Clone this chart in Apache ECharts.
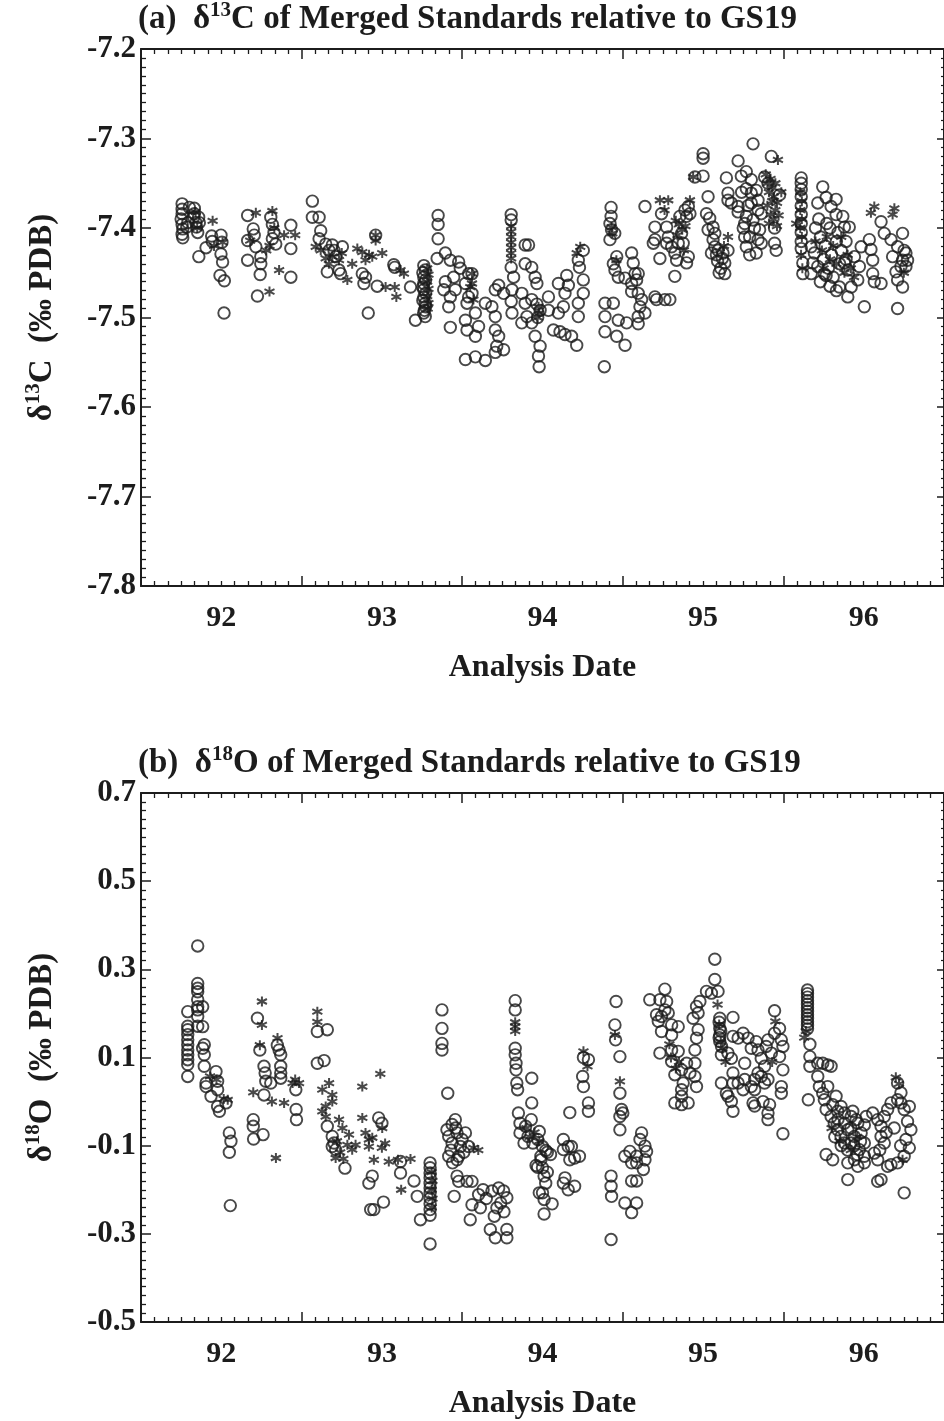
<!DOCTYPE html>
<html><head><meta charset="utf-8">
<script src="https://cdn.jsdelivr.net/npm/echarts@6/dist/echarts.min.js"></script>
<style>html,body{margin:0;padding:0;background:#fff}#c{width:944px;height:1421px}</style>
</head><body><div id="c"></div>
<script>
// ---- tick labels ----
const yearLabels = ['92','93','94','95','96'];
const yearLabelAt = [92.5,93.5,94.5,95.5,96.5];

// ---- (a) d13C, open circles ----
const d13C_circle = [
[92.256,-7.373],[92.256,-7.379],[92.256,-7.384],[92.250,-7.390],[92.256,-7.396],[92.260,-7.401],[92.256,-7.407],[92.260,-7.411],
[92.301,-7.377],[92.332,-7.378],[92.332,-7.384],[92.328,-7.388],[92.342,-7.394],[92.346,-7.399],[92.353,-7.405],[92.363,-7.394],[92.359,-7.388],
[92.291,-7.394],[92.285,-7.399],
[92.360,-7.432],[92.405,-7.422],[92.440,-7.409],[92.444,-7.415],[92.498,-7.408],[92.504,-7.416],[92.498,-7.429],[92.508,-7.438],[92.492,-7.453],[92.519,-7.459],[92.517,-7.495],
[92.664,-7.386],[92.664,-7.414],[92.664,-7.436],[92.699,-7.401],[92.705,-7.408],[92.715,-7.421],[92.746,-7.432],[92.746,-7.440],[92.742,-7.452],[92.725,-7.476],[92.808,-7.388],[92.818,-7.396],[92.828,-7.405],[92.818,-7.412],[92.839,-7.418],[92.933,-7.397],[92.933,-7.423],[92.933,-7.455],
[93.067,-7.370],[93.067,-7.388],[93.109,-7.388],[93.119,-7.403],[93.109,-7.412],[93.150,-7.418],[93.171,-7.425],[93.191,-7.419],[93.202,-7.425],[93.212,-7.432],[93.254,-7.421],[93.160,-7.449],[93.233,-7.447],[93.243,-7.451],[93.378,-7.451],[93.398,-7.455],[93.388,-7.462],[93.415,-7.495],[93.471,-7.465],[93.574,-7.441],[93.580,-7.444],[93.678,-7.466],[93.461,-7.408],
[93.761,-7.442],[93.770,-7.447],[93.761,-7.455],[93.761,-7.462],[93.761,-7.469],[93.761,-7.477],[93.770,-7.484],[93.765,-7.492],[93.770,-7.499],[93.709,-7.503],
[93.755,-7.450],[93.772,-7.458],[93.755,-7.466],[93.772,-7.473],[93.755,-7.481],[93.772,-7.488],[93.760,-7.495],
[93.850,-7.386],[93.850,-7.396],[93.850,-7.412],[93.844,-7.434],
[93.895,-7.428],[93.926,-7.436],[93.978,-7.438],[93.988,-7.445],[93.947,-7.455],[93.895,-7.460],[93.885,-7.469],[93.926,-7.477],[93.957,-7.469],[94.020,-7.462],[94.040,-7.451],[94.040,-7.477],[94.030,-7.484],[94.061,-7.451],[94.061,-7.473],
[93.916,-7.488],[93.926,-7.511],[94.020,-7.503],[94.082,-7.495],[94.030,-7.514],[94.082,-7.521],[94.102,-7.510],
[94.020,-7.547],[94.082,-7.544],[94.144,-7.548],
[94.144,-7.484],[94.185,-7.488],[94.206,-7.469],[94.227,-7.464],[94.258,-7.473],[94.206,-7.499],[94.206,-7.514],[94.227,-7.521],[94.215,-7.532],[94.258,-7.536],[94.206,-7.539],
[94.305,-7.385],[94.305,-7.391],[94.305,-7.444],[94.320,-7.455],[94.310,-7.469],[94.305,-7.482],[94.310,-7.495],
[94.392,-7.419],[94.413,-7.419],[94.392,-7.440],[94.433,-7.444],[94.454,-7.455],[94.465,-7.462],[94.371,-7.473],[94.392,-7.484],[94.433,-7.480],[94.403,-7.499],[94.433,-7.506],[94.371,-7.506],
[94.465,-7.485],[94.485,-7.492],[94.470,-7.500],
[94.454,-7.521],[94.485,-7.532],[94.475,-7.543],[94.479,-7.555],[94.537,-7.477],[94.537,-7.492],
[94.599,-7.462],[94.651,-7.453],[94.661,-7.464],[94.640,-7.473],[94.630,-7.488],[94.599,-7.495],[94.568,-7.514],[94.609,-7.516],[94.640,-7.519],[94.681,-7.521],[94.713,-7.531],
[94.723,-7.484],[94.723,-7.499],[94.754,-7.473],[94.754,-7.458],[94.723,-7.436],[94.754,-7.425],[94.730,-7.444],
[94.889,-7.484],[94.941,-7.484],[94.889,-7.499],[94.889,-7.516],[94.962,-7.521],[95.014,-7.531],[94.972,-7.503],[95.024,-7.506],[94.885,-7.555],
[94.927,-7.377],[94.927,-7.387],[94.920,-7.395],[94.930,-7.402],[94.920,-7.413],[94.950,-7.406],
[94.962,-7.432],[94.941,-7.440],[94.951,-7.447],[94.972,-7.455],[95.014,-7.456],
[95.055,-7.428],[95.065,-7.439],[95.076,-7.451],[95.096,-7.451],[95.086,-7.458],[95.055,-7.462],[95.055,-7.471],[95.096,-7.473],[95.117,-7.480],[95.107,-7.488],[95.096,-7.499],[95.096,-7.507],[95.138,-7.495],[95.200,-7.477],[95.210,-7.480],[95.262,-7.480],[95.293,-7.480],
[95.138,-7.376],[95.200,-7.399],[95.200,-7.413],[95.190,-7.417],[95.241,-7.384],[95.231,-7.434],
[95.273,-7.399],[95.283,-7.410],[95.273,-7.417],[95.304,-7.421],[95.324,-7.428],[95.345,-7.417],[95.335,-7.436],[95.376,-7.417],[95.366,-7.406],[95.397,-7.387],[95.387,-7.380],[95.408,-7.376],[95.418,-7.384],[95.355,-7.387],[95.397,-7.439],[95.408,-7.432],[95.324,-7.454],
[95.449,-7.343],[95.500,-7.342],[95.500,-7.317],[95.500,-7.322],
[95.531,-7.365],[95.521,-7.384],[95.541,-7.389],[95.562,-7.399],[95.573,-7.406],[95.562,-7.413],[95.593,-7.425],[95.624,-7.428],[95.655,-7.425],[95.635,-7.439],[95.635,-7.451],[95.552,-7.428],[95.583,-7.430],[95.573,-7.421],[95.531,-7.402],
[95.590,-7.437],[95.610,-7.445],[95.620,-7.434],[95.600,-7.450],
[95.645,-7.344],[95.655,-7.361],[95.655,-7.369],[95.676,-7.372],
[95.718,-7.325],[95.769,-7.337],[95.738,-7.342],[95.800,-7.346],[95.769,-7.356],[95.800,-7.361],[95.831,-7.358],[95.800,-7.372],[95.718,-7.376],[95.718,-7.382],[95.769,-7.387],[95.842,-7.369],[95.759,-7.395],[95.759,-7.410],[95.790,-7.410],[95.852,-7.402],[95.842,-7.413],[95.862,-7.417],[95.831,-7.428],[95.769,-7.421],[95.811,-7.391],[95.862,-7.384],[95.842,-7.380],
[95.740,-7.360],[95.780,-7.375],[95.820,-7.400],[95.790,-7.430],[95.750,-7.400],
[95.811,-7.306],[95.925,-7.320],[95.904,-7.350],[95.883,-7.343],
[95.945,-7.417],[95.955,-7.425],[95.945,-7.400],[95.976,-7.363],
[96.111,-7.344],[96.111,-7.350],[96.111,-7.357],[96.111,-7.365],[96.111,-7.375],[96.111,-7.385],[96.111,-7.395],[96.111,-7.405],[96.111,-7.415],[96.111,-7.423],[96.121,-7.439],[96.121,-7.451],
[96.173,-7.421],[96.193,-7.428],[96.183,-7.439],[96.214,-7.443],[96.255,-7.451],[96.266,-7.453],[96.173,-7.451],
[96.214,-7.372],[96.245,-7.354],[96.266,-7.366],[96.297,-7.376],[96.328,-7.368],[96.328,-7.385],[96.370,-7.387],[96.380,-7.399],[96.410,-7.399],
[96.200,-7.400],[96.230,-7.410],[96.260,-7.420],[96.290,-7.400],[96.300,-7.430],[96.330,-7.415],[96.350,-7.440],[96.250,-7.435],[96.280,-7.445],[96.310,-7.455],[96.360,-7.425],[96.390,-7.435],[96.220,-7.390],[96.340,-7.405],
[96.230,-7.460],[96.290,-7.465],[96.330,-7.470],[96.270,-7.395],[96.390,-7.415],
[96.349,-7.466],[96.401,-7.477],[96.422,-7.466],[96.463,-7.458],[96.401,-7.447],[96.380,-7.439],[96.442,-7.432],[96.484,-7.421],[96.473,-7.443],
[96.504,-7.488],
[96.535,-7.413],[96.545,-7.424],[96.556,-7.436],[96.556,-7.451],[96.566,-7.460],[96.608,-7.462],
[96.608,-7.393],[96.628,-7.406],[96.670,-7.413],[96.680,-7.432],[96.711,-7.421],[96.742,-7.406],[96.752,-7.425],[96.742,-7.436],[96.732,-7.443],[96.701,-7.449],[96.742,-7.466],[96.711,-7.458],
[96.711,-7.490],[96.763,-7.428],[96.773,-7.436],[96.763,-7.443]
];

// ---- (a) d13C, asterisks ----
const d13C_star = [
[92.340,-7.382],[92.350,-7.400],
[92.446,-7.392],[92.508,-7.416],[92.455,-7.420],
[92.715,-7.383],[92.818,-7.381],[92.800,-7.420],[92.891,-7.408],[92.960,-7.408],[92.860,-7.447],[92.800,-7.471],[92.680,-7.414],[92.780,-7.425],[92.830,-7.400],
[93.088,-7.421],[93.119,-7.425],[93.150,-7.434],[93.191,-7.432],[93.233,-7.436],[93.285,-7.458],[93.347,-7.423],[93.378,-7.427],[93.315,-7.440],[93.398,-7.436],[93.440,-7.432],[93.502,-7.428],[93.461,-7.408],[93.461,-7.414],[93.523,-7.466],[93.580,-7.466],[93.590,-7.477],[93.637,-7.451],[93.616,-7.447],[93.250,-7.428],[93.170,-7.440],[93.420,-7.430],
[93.782,-7.445],[93.790,-7.452],[93.782,-7.460],[93.790,-7.468],[93.782,-7.476],[93.790,-7.484],[93.785,-7.490],
[94.061,-7.451],[94.050,-7.466],[94.070,-7.480],[94.061,-7.462],
[94.305,-7.398],[94.305,-7.404],[94.305,-7.410],[94.305,-7.416],[94.305,-7.422],[94.305,-7.428],[94.305,-7.434],
[94.475,-7.488],[94.480,-7.495],[94.470,-7.500],
[94.713,-7.428],[94.735,-7.421],[94.930,-7.399],[94.935,-7.406],[94.960,-7.436],
[95.231,-7.369],[95.283,-7.369],[95.260,-7.380],
[95.330,-7.392],[95.350,-7.396],[95.370,-7.402],[95.390,-7.398],[95.418,-7.369],[95.340,-7.408],[95.380,-7.425],
[95.438,-7.343],[95.655,-7.410],[95.630,-7.420],[95.966,-7.324],
[95.890,-7.340],[95.900,-7.350],[95.910,-7.360],[95.920,-7.345],[95.930,-7.355],[95.940,-7.365],[95.950,-7.350],[95.960,-7.372],[95.900,-7.375],[95.920,-7.385],[95.940,-7.390],[95.960,-7.398],[95.930,-7.370],[95.950,-7.380],[95.910,-7.395],[95.970,-7.386],[95.987,-7.360],
[96.105,-7.360],[96.115,-7.370],[96.105,-7.380],[96.115,-7.390],[96.105,-7.400],[96.115,-7.410],[96.080,-7.395],[96.110,-7.430],[96.118,-7.445],
[96.200,-7.415],[96.240,-7.425],[96.270,-7.410],[96.310,-7.420],[96.330,-7.440],[96.360,-7.410],[96.290,-7.435],[96.380,-7.450],[96.400,-7.430],[96.420,-7.445],[96.440,-7.455],[96.250,-7.445],
[96.566,-7.376],[96.545,-7.383],[96.691,-7.378],[96.680,-7.385],[96.750,-7.450]
];

// ---- (b) d18O, open circles ----
const d18O_circle = [
[92.291,0.204],[92.291,0.171],[92.291,0.163],[92.291,0.152],[92.291,0.140],[92.291,0.129],[92.291,0.117],[92.291,0.106],[92.291,0.095],[92.291,0.084],[92.291,0.057],
[92.353,0.353],[92.353,0.268],[92.353,0.257],[92.353,0.249],[92.353,0.231],[92.353,0.215],[92.353,0.208],[92.353,0.193],[92.353,0.171],
[92.384,0.215],[92.384,0.170],[92.394,0.129],[92.384,0.121],[92.394,0.106],[92.394,0.080],
[92.405,0.042],[92.405,0.034],[92.436,0.012],[92.467,0.068],[92.477,0.046],[92.477,0.027],[92.488,-0.022],[92.477,-0.011],[92.529,-0.003],
[92.550,-0.071],[92.560,-0.090],[92.550,-0.115],[92.556,-0.236],
[92.699,-0.041],[92.699,-0.056],[92.701,-0.085],[92.760,-0.075],[92.725,0.189],[92.740,0.117],[92.766,0.080],[92.773,0.065],[92.777,0.046],[92.766,0.015],[92.808,0.042],[92.849,0.128],[92.860,0.117],[92.870,0.106],[92.870,0.080],[92.870,0.065],[92.870,0.053],[92.964,0.027],[92.966,-0.018],[92.968,-0.041],
[93.098,0.159],[93.160,0.163],[93.098,0.087],[93.140,0.093],[93.160,-0.056],[93.191,-0.079],[93.202,-0.094],[93.212,-0.109],[93.191,-0.102],[93.270,-0.151],[93.480,-0.037],[93.500,-0.049],
[93.419,-0.185],[93.440,-0.169],[93.430,-0.245],[93.450,-0.245],[93.510,-0.228],[93.616,-0.162],[93.616,-0.136],
[93.700,-0.180],[93.720,-0.215],[93.740,-0.268],
[93.800,-0.139],[93.800,-0.150],[93.800,-0.162],[93.800,-0.173],[93.800,-0.185],[93.800,-0.196],[93.800,-0.207],[93.800,-0.219],[93.800,-0.232],[93.800,-0.245],[93.800,-0.258],[93.800,-0.323],
[93.874,0.208],[93.874,0.166],[93.874,0.132],[93.874,0.117],[93.910,0.019],
[93.957,-0.041],[93.937,-0.052],[93.905,-0.064],[93.916,-0.079],[93.968,-0.071],[93.999,-0.086],[94.020,-0.071],[93.937,-0.094],[93.989,-0.102],[93.916,-0.124],[93.978,-0.124],[93.968,-0.132],[94.040,-0.102],[93.968,-0.169],[93.978,-0.181],[93.950,-0.215],[94.030,-0.181],[94.061,-0.181],[93.940,-0.139],[94.010,-0.115],[93.930,-0.110],[93.960,-0.060],
[94.061,-0.234],[94.050,-0.268],[94.102,-0.211],[94.113,-0.241],[94.185,-0.203],[94.227,-0.196],[94.258,-0.203],[94.278,-0.218],[94.216,-0.241],[94.175,-0.290],[94.206,-0.309],[94.278,-0.290],[94.278,-0.309],[94.150,-0.220],[94.240,-0.230],[94.200,-0.260],[94.260,-0.250],[94.130,-0.200],
[94.330,0.229],[94.330,0.208],[94.330,0.121],[94.330,0.106],[94.335,0.087],[94.335,0.072],[94.340,0.042],[94.345,0.027],
[94.433,0.053],[94.433,-0.003],
[94.350,-0.026],[94.360,-0.049],[94.395,-0.056],[94.430,-0.041],[94.360,-0.071],[94.410,-0.079],[94.480,-0.068],[94.385,-0.094],[94.440,-0.094],[94.470,-0.086],[94.500,-0.102],[94.520,-0.111],[94.490,-0.124],[94.460,-0.145],[94.490,-0.132],[94.530,-0.115],[94.550,-0.120],
[94.470,-0.149],[94.500,-0.150],[94.510,-0.169],[94.530,-0.160],[94.520,-0.185],
[94.480,-0.207],[94.500,-0.207],[94.510,-0.222],[94.560,-0.232],[94.510,-0.255],
[94.630,-0.086],[94.660,-0.102],[94.680,-0.102],[94.630,-0.109],[94.670,-0.132],[94.700,-0.128],[94.730,-0.124],[94.640,-0.173],[94.630,-0.185],[94.660,-0.200],[94.700,-0.192],[94.670,-0.025],
[94.755,0.100],[94.786,0.095],[94.750,0.057],[94.755,0.034],[94.786,-0.003],[94.786,-0.022],
[94.927,-0.169],[94.927,-0.192],[94.930,-0.215],[94.927,-0.313],
[94.958,0.227],[94.951,0.174],[94.955,0.140],[94.982,0.102],[94.982,0.019],[94.992,-0.018],[94.982,-0.034],[95.000,-0.026],[94.982,-0.064],
[95.013,-0.124],[95.044,-0.113],[95.086,-0.124],[95.086,-0.139],[95.128,-0.154],[95.138,-0.132],[95.148,-0.113],[95.117,-0.071],[95.107,-0.086],[95.138,-0.101],[95.055,-0.139],[95.055,-0.180],[95.086,-0.180],[95.013,-0.230],[95.055,-0.252],[95.086,-0.230],
[95.168,0.231],[95.231,0.231],[95.262,0.255],[95.273,0.227],[95.210,0.197],[95.241,0.193],[95.262,0.208],[95.283,0.201],[95.221,0.182],[95.241,0.159],[95.231,0.110],[95.304,0.174],[95.345,0.170],[95.304,0.151],[95.304,0.117],[95.345,0.114],[95.304,0.091],[95.324,0.061],[95.366,0.072],[95.397,0.087],[95.418,0.065],[95.376,0.042],[95.449,0.087],[95.449,0.057],[95.459,0.034],[95.366,0.027],[95.366,0.012],[95.324,-0.003],[95.366,-0.007],[95.407,-0.003],
[95.438,0.189],[95.469,0.201],[95.480,0.227],[95.459,0.216],[95.469,0.163],[95.459,0.144],[95.449,0.117],
[95.521,0.250],[95.552,0.246],[95.593,0.250],[95.573,0.323],[95.573,0.277],
[95.604,0.189],[95.604,0.166],[95.604,0.151],[95.604,0.136],[95.614,0.106],[95.655,0.110],[95.676,0.098],[95.614,0.042],[95.645,0.019],[95.655,0.012],[95.676,0.000],[95.686,-0.022],
[95.600,0.180],[95.610,0.160],[95.600,0.145],[95.615,0.125],
[95.686,0.191],[95.686,0.148],[95.718,0.144],[95.686,0.065],[95.686,0.042],[95.718,0.042],[95.749,0.027],[95.759,0.050],[95.759,0.087],[95.749,0.155],[95.780,0.144],[95.800,0.121],[95.831,0.136],[95.842,0.117],[95.862,0.098],[95.893,0.125],[95.904,0.140],[95.925,0.110],[95.883,0.080],[95.842,0.065],[95.821,0.050],[95.800,0.034],[95.862,0.057],[95.904,0.050],[95.883,0.042],[95.821,0.027],[95.811,-0.003],[95.873,0.000],[95.914,-0.007],[95.904,-0.026],[95.904,-0.041],[95.821,-0.010],
[95.945,0.206],[95.976,0.166],[95.987,0.140],[95.997,0.125],[95.976,0.102],[95.997,0.072],[95.987,0.034],[95.987,0.019],[95.945,0.155],[95.997,-0.073],
[96.150,0.253],[96.150,0.245],[96.150,0.237],[96.150,0.229],[96.150,0.221],[96.150,0.213],[96.150,0.205],[96.150,0.197],[96.150,0.189],[96.150,0.181],[96.150,0.173],[96.150,0.165],[96.165,0.130],[96.165,0.102],[96.165,0.080],[96.155,0.004],
[96.214,0.087],[96.245,0.087],[96.276,0.083],[96.297,0.080],[96.214,0.057],[96.224,0.034],[96.245,0.019],[96.276,0.034],[96.255,0.004],
[96.266,-0.018],[96.297,-0.034],[96.317,-0.049],[96.338,-0.064],[96.359,-0.079],[96.380,-0.094],[96.422,-0.094],[96.442,-0.079],[96.401,-0.064],[96.380,-0.049],[96.422,-0.034],[96.463,-0.049],[96.484,-0.071],[96.504,-0.094],[96.473,-0.109],[96.504,-0.124],[96.442,-0.132],[96.401,-0.139],[96.463,-0.147],[96.504,-0.139],[96.266,-0.120],[96.307,-0.132],[96.401,-0.177],
[96.320,-0.080],[96.360,-0.100],[96.400,-0.110],[96.440,-0.100],[96.480,-0.090],[96.340,-0.040],[96.420,-0.060],[96.460,-0.120],
[96.307,-0.007],[96.328,0.012],[96.359,-0.011],[96.338,-0.022],[96.380,-0.026],[96.432,-0.022],[96.453,-0.041],[96.515,-0.034],[96.504,-0.053],
[96.556,-0.026],[96.587,-0.041],[96.608,-0.056],[96.628,-0.034],[96.649,-0.018],[96.670,-0.003],[96.711,0.004],[96.732,-0.003],[96.752,-0.018],[96.784,-0.011],[96.773,-0.045],[96.794,-0.064],[96.763,-0.086],[96.784,-0.105],[96.752,-0.124],[96.711,-0.139],[96.670,-0.143],[96.587,-0.132],[96.566,-0.117],[96.628,-0.094],[96.608,-0.079],[96.711,0.042],[96.732,0.020],
[96.600,-0.110],[96.640,-0.070],[96.690,-0.060],[96.730,-0.100],
[96.587,-0.181],[96.608,-0.177],[96.649,-0.147],[96.752,-0.207]
];

// ---- (b) d18O, asterisks ----
const d18O_star = [
[92.430,0.057],[92.470,0.050],[92.540,0.004],[92.515,0.006],
[92.753,0.227],[92.753,0.174],[92.740,0.128],[92.699,0.021],[92.815,0.000],[92.891,-0.003],[92.840,-0.128],[92.850,0.144],[92.944,0.042],[92.984,0.042],[92.960,0.050],
[93.098,0.204],[93.098,0.181],[93.129,0.027],[93.171,0.042],[93.191,0.015],[93.191,0.000],[93.150,-0.011],[93.129,-0.022],[93.150,-0.034],[93.233,-0.041],[93.254,-0.060],[93.295,-0.075],[93.285,-0.098],[93.212,-0.128],[93.315,-0.109],[93.336,-0.098],[93.240,-0.115],[93.260,-0.130],[93.220,-0.090],
[93.378,-0.037],[93.378,0.034],[93.490,0.063],
[93.398,-0.071],[93.419,-0.086],[93.440,-0.082],[93.419,-0.102],[93.450,-0.132],[93.500,-0.105],[93.520,-0.095],[93.502,-0.060],
[93.543,-0.136],[93.600,-0.132],[93.678,-0.130],[93.620,-0.200],
[93.810,-0.160],[93.815,-0.180],[93.810,-0.200],[93.815,-0.220],[93.810,-0.240],
[94.070,-0.105],[94.100,-0.110],
[94.330,0.180],[94.330,0.170],[94.330,0.160],
[94.400,-0.060],[94.420,-0.080],[94.450,-0.070],[94.480,-0.090],
[94.755,0.114],[94.780,0.080],[94.951,0.151],[94.982,0.046],
[95.290,0.130],[95.300,0.100],[95.330,0.075],[95.350,0.090],
[95.590,0.220],[95.600,0.175],[95.610,0.135],[95.620,0.120],[95.640,0.090],
[95.950,0.182],[95.930,0.090],[96.130,0.145],[96.140,0.160],
[96.300,-0.060],[96.350,-0.090],[96.420,-0.110],[96.460,-0.080],
[96.700,0.055],[96.720,0.040],[96.742,-0.132]
];

const FONT = '"Liberation Serif","Times New Roman",serif';
const INK = '#1c1c1c';
const ASTERISK = 'path://M5,0L5,10M0.67,2.5L9.33,7.5M0.67,7.5L9.33,2.5';

function xAxisPair(grid) {
  const base = {
    type: 'value', gridIndex: grid, min: 92, max: 97, interval: 1,
    axisLine: {show: true, onZero: false, lineStyle: {color: INK, width: 2}},
    splitLine: {show: false},
    axisTick: {show: true, inside: true, length: 10, lineStyle: {color: INK, width: 1.5}},
    minorTick: {show: true, splitNumber: 12, length: 5, lineStyle: {color: INK, width: 1.3}}
  };
  const bottom = Object.assign({}, base, {
    position: 'bottom',
    name: 'Analysis Date', nameLocation: 'middle', nameGap: 66,
    nameTextStyle: {fontFamily: FONT, fontWeight: 'bold', fontSize: 32, color: INK},
    axisLabel: {show: true, customValues: yearLabelAt, margin: 17,
      formatter: v => { const i = Math.round(v - 92.5); return yearLabels[i] !== undefined ? yearLabels[i] : ''; },
      fontFamily: FONT, fontWeight: 'bold', fontSize: 30, color: INK}
  });
  const top = Object.assign({}, base, {position: 'top', axisLabel: {show: false}});
  return [bottom, top];
}

function yAxisPair(grid, min, max, interval, nameRich) {
  const base = {
    type: 'value', gridIndex: grid, min: min, max: max, interval: interval,
    axisLine: {show: true, onZero: false, lineStyle: {color: INK, width: 2}},
    splitLine: {show: false},
    axisTick: {show: true, inside: true, length: 10, lineStyle: {color: INK, width: 1.5}},
    minorTick: {show: true, splitNumber: 10, length: 5, lineStyle: {color: INK, width: 1.3}}
  };
  const left = Object.assign({}, base, {
    position: 'left',
    name: nameRich, nameLocation: 'middle', nameRotate: 90, nameGap: 80,
    nameTextStyle: {
      fontFamily: FONT, fontWeight: 'bold', fontSize: 33, color: INK,
      rich: {
        t: {fontFamily: FONT, fontWeight: 'bold', fontSize: 33, color: INK, lineHeight: 38},
        s: {fontFamily: FONT, fontWeight: 'bold', fontSize: 21, color: INK, lineHeight: 38, verticalAlign: 'top', padding: [0, 0, 14, 0]}
      }
    },
    axisLabel: {show: true, margin: 5, formatter: v => v.toFixed(1),
      fontFamily: FONT, fontWeight: 'bold', fontSize: 31, color: INK}
  });
  const right = Object.assign({}, base, {
    position: 'right', axisLabel: {show: false},
    axisTick: {show: true, inside: true, length: 7, lineStyle: {color: INK, width: 1.5}},
    minorTick: {show: true, splitNumber: 10, length: 3, lineStyle: {color: INK, width: 1.2}}
  });
  return [left, right];
}

const circleStyle = {color: 'rgba(0,0,0,0)', borderColor: INK, borderWidth: 1.9};
const starStyle = {color: 'rgba(0,0,0,0)', borderColor: INK, borderWidth: 2};

function scatter(data, xi, yi, star) {
  return {
    type: 'scatter', xAxisIndex: xi, yAxisIndex: yi, data: data,
    symbol: star ? ASTERISK : 'circle', symbolSize: star ? 10 : 11.5,
    itemStyle: star ? starStyle : circleStyle,
    emphasis: {disabled: true}, silent: true, animation: false
  };
}

const titleRich = {
  t: {fontFamily: FONT, fontWeight: 'bold', fontSize: 33, color: INK, lineHeight: 38},
  s: {fontFamily: FONT, fontWeight: 'bold', fontSize: 21, color: INK, lineHeight: 38, verticalAlign: 'top', padding: [0, 0, 14, 0]}
};

const option = {
  backgroundColor: '#ffffff',
  animation: false,
  title: [
    {text: '{t|(a)  δ}{s|13}{t|C of Merged Standards relative to GS19}', left: 138, top: 0, padding: 0, textStyle: {rich: titleRich}},
    {text: '{t|(b)  δ}{s|18}{t|O of Merged Standards relative to GS19}', left: 138, top: 744, padding: 0, textStyle: {rich: titleRich}}
  ],
  grid: [
    {left: 141, top: 49, width: 805, height: 537},
    {left: 141, top: 793, width: 805, height: 530}
  ],
  xAxis: [].concat(xAxisPair(0), xAxisPair(1)),
  yAxis: [].concat(
    yAxisPair(0, -7.8, -7.2, 0.1, '{t|δ}{s|13}{t|C  (‰ PDB)}'),
    yAxisPair(1, -0.5, 0.7, 0.2, '{t|δ}{s|18}{t|O  (‰ PDB)}')
  ),
  series: [
    scatter(d13C_circle, 0, 0, false),
    scatter(d13C_star, 0, 0, true),
    scatter(d18O_circle, 2, 2, false),
    scatter(d18O_star, 2, 2, true)
  ]
};

const chart = echarts.init(document.getElementById('c'), null, {renderer: 'canvas', width: 944, height: 1421});
chart.setOption(option);
</script>
</body></html>
